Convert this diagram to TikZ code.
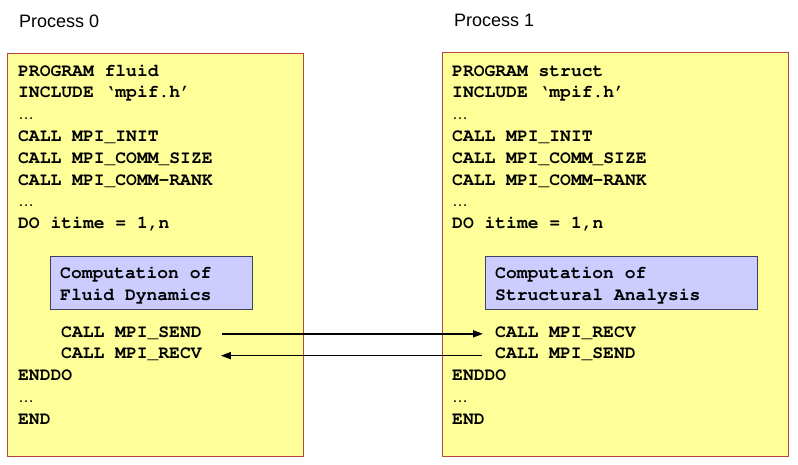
\documentclass[tikz,border=0pt]{standalone}
\usepackage[T1,TU]{fontenc}
\usepackage{fontspec}
\setmainfont{Liberation Sans}
\newcommand\codefont{\fontencoding{T1}\fontfamily{pcr}\bfseries\fontsize{18}{21.8}\selectfont}
\newcommand\dotsfont{\normalfont\fontsize{16}{21.8}\selectfont}
\usetikzlibrary{arrows.meta,positioning}
\definecolor{procfill}{HTML}{FFFF99}
\definecolor{procline}{HTML}{B5473F}
\definecolor{compfill}{HTML}{CCCCFF}
\definecolor{compline}{HTML}{404060}

\begin{document}
\begin{tikzpicture}[
    x=1pt, y=-1pt,
    title/.style={anchor=base west, inner sep=0pt, font=\fontsize{18}{22}\selectfont},
    proc/.style={draw=procline, fill=procfill, line width=0.8pt, anchor=north west, inner sep=0pt},
    code/.style={anchor=base west, inner sep=0pt, text height=6.3pt, text depth=-6.3pt, font=\codefont},
    comp/.style={draw=compline, fill=compfill, line width=0.8pt, anchor=north west, inner sep=0pt, minimum height=53pt},
    msg/.style={-{Triangle[length=10pt,width=7pt]}, line width=1.6pt}
]
\useasboundingbox (0,0) rectangle (798,464);
\node[title] (t0) at (19,27) {Process 0};
\node[title] (t1) at (454,26) {Process 1};
\node[proc, minimum width=296pt, minimum height=403pt] (box0) at (7,53) {};
\node[proc, minimum width=346pt, minimum height=404pt] (box1) at (442,52) {};
% header lines of both programs
\foreach \txt [count=\i from 0] in {PROGRAM fluid, INCLUDE `mpif.h', {\dotsfont …}, CALL MPI\_INIT, CALL MPI\_COMM\_SIZE, CALL MPI\_COMM-RANK, {\dotsfont …}, {DO itime = 1,n}}
  \node[code] (f\i) at (18,76+21.8*\i) {\txt};
\foreach \txt [count=\i from 0] in {PROGRAM struct, INCLUDE `mpif.h', {\dotsfont …}, CALL MPI\_INIT, CALL MPI\_COMM\_SIZE, CALL MPI\_COMM-RANK, {\dotsfont …}, {DO itime = 1,n}}
  \node[code] (s\i) at (452,76+21.8*\i) {\txt};
% computation blocks
\node[comp, minimum width=202pt] (comp0) at (50,256) {};
\node[code] (comp0a) at (60,278) {Computation of};
\node[code] (comp0b) at (60,300) {Fluid Dynamics};
\node[comp, minimum width=272pt] (comp1) at (485,256) {};
\node[code] (comp1a) at (495,278) {Computation of};
\node[code] (comp1b) at (495,300) {Structural Analysis};
\node[code] (send0) at (61,337) {CALL MPI\_SEND};
\node[code] (recv0) at (61,358.8) {CALL MPI\_RECV};
\node[code] (enddo0) at (18,380.6) {ENDDO};
\node[code] (dots0) at (18,402.4) {\dotsfont …};
\node[code] (end0) at (18,424.2) {END};
\node[code] (recv1) at (495,337) {CALL MPI\_RECV};
\node[code] (send1) at (495,358.8) {CALL MPI\_SEND};
\node[code] (enddo1) at (452,380.6) {ENDDO};
\node[code] (dots1) at (452,402.4) {\dotsfont …};
\node[code] (end1) at (452,424.2) {END};
\draw[msg, shorten <=20pt, shorten >=12pt] (send0) -- (recv1);
\draw[msg, shorten <=13pt, shorten >=19pt] (send1) -- (recv0);
\end{tikzpicture}
\end{document}
